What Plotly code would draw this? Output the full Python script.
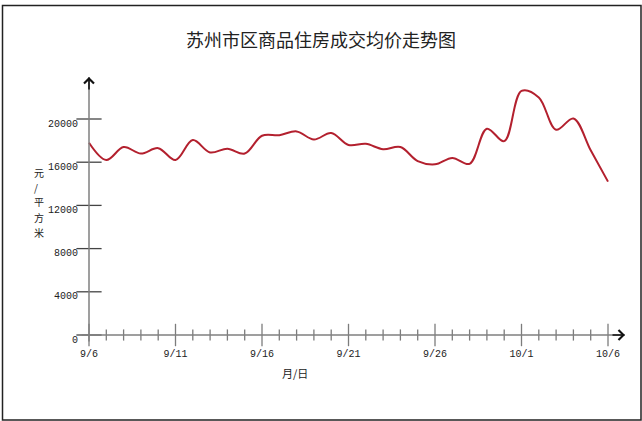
import plotly.graph_objects as go

# ---- data ----
dates = ['9/6', '9/7', '9/8', '9/9', '9/10', '9/11', '9/12', '9/13', '9/14', '9/15',
         '9/16', '9/17', '9/18', '9/19', '9/20', '9/21', '9/22', '9/23', '9/24', '9/25',
         '9/26', '9/27', '9/28', '9/29', '9/30', '10/1', '10/2', '10/3', '10/4', '10/5', '10/6']
prices = [17800, 16200, 17400, 16800, 17300, 16200, 18050, 16900, 17250, 16800,
          18450, 18500, 18850, 18100, 18700, 17600, 17700, 17200, 17400, 16100,
          15800, 16400, 15850, 19100, 17950, 22600, 22000, 19000, 20050, 17100, 14200]
x_tick_labels = ['9/6', '9/11', '9/16', '9/21', '9/26', '10/1', '10/6']
y_tick_vals = [0, 4000, 8000, 12000, 16000, 20000]
y_tick_text = ['0', '4000', '8000', '12000', '16000', '20000']

title = '苏州市区商品住房成交均价走势图'
y_label = '元/平方米'
x_label = '月/日'

# ---- layout geometry (pixels) ----
W, H = 642, 421
L, R, T, B = 81, 632, 70, 343        # plot area
X0PX, X30PX, Y0PX = 89, 608, 335      # where day 0, day 30 and value 0 land
px_per_day = (X30PX - X0PX) / 30.0
px_per_unit = 10.8 / 1000.0

x_range = [(L - X0PX) / px_per_day, 30 + (R - X30PX) / px_per_day]
y_range = [-(B - Y0PX) / px_per_unit, (Y0PX - T) / px_per_unit]


def pxx(px):
    return (px - L) / (R - L)


def pxy(py):
    return (B - py) / (B - T)


line_col = '#b3202e'
axis_col = '#808080'
tick_col = '#444444'
mono = 'Liberation Mono, DejaVu Sans Mono, monospace'
cjk = 'Noto Sans CJK SC, sans-serif'

fig = go.Figure()

# price line
fig.add_trace(go.Scatter(
    x=dates, y=prices, mode='lines',
    line=dict(color=line_col, width=2, shape='spline', smoothing=1.0),
    hoverinfo='skip', showlegend=False))

# x tick marks crossing the axis
fig.add_trace(go.Scatter(
    x=dates, y=[0] * len(dates), mode='markers',
    marker=dict(symbol='line-ns-open', color=tick_col,
                size=[16 if d in x_tick_labels else 8 for d in dates],
                line=dict(color=tick_col, width=1.3)),
    hoverinfo='skip', showlegend=False, cliponaxis=False))

# y tick marks crossing the axis
fig.add_trace(go.Scatter(
    x=[dates[0]] * len(y_tick_vals), y=y_tick_vals, mode='markers',
    marker=dict(symbol='line-ew-open', size=18, color=tick_col,
                line=dict(color=tick_col, width=1.3)),
    hoverinfo='skip', showlegend=False, cliponaxis=False))

x_end = x_range[1] - (R - 625) / px_per_day
y_top = (Y0PX - 77) / px_per_unit
annotations = [
    # y axis line
    dict(x=0, y=y_top, ax=0, ay=y_range[0], xref='x', yref='y', axref='x', ayref='y',
         text='', showarrow=True, arrowhead=0, arrowwidth=1.5, arrowcolor=axis_col),
    # x axis line
    dict(x=x_end, y=0, ax=x_range[0] - 0.05, ay=0, xref='x', yref='y', axref='x', ayref='y',
         text='', showarrow=True, arrowhead=0, arrowwidth=1.5, arrowcolor=axis_col),
    # arrow heads
    dict(x=0, y=y_top, ax=0, ay=y_top - 14 / px_per_unit, xref='x', yref='y', axref='x', ayref='y',
         text='', showarrow=True, arrowhead=4, arrowsize=1.2, arrowwidth=1.6, arrowcolor='#111111'),
    dict(x=x_end, y=0, ax=x_end - 14 / px_per_day, ay=0, xref='x', yref='y', axref='x', ayref='y',
         text='', showarrow=True, arrowhead=4, arrowsize=1.2, arrowwidth=1.6, arrowcolor='#111111'),
    # x axis title
    dict(x=pxx(295), y=pxy(383), xref='paper', yref='paper',
         text=x_label, showarrow=False,
         font=dict(family=cjk, size=11, color='#222222')),
]
# y axis title, stacked vertically one character per line
for ch, cy in zip(y_label, [172, 187, 202, 217, 232]):
    annotations.append(dict(x=pxx(33), y=pxy(cy), xref='paper', yref='paper',
                            text=ch, showarrow=False, borderpad=0,
                            font=dict(family=cjk, size=10, color='#222222')))

shapes = [
    dict(type='rect', xref='paper', yref='paper',
         x0=pxx(2.5), x1=pxx(641), y0=pxy(420), y1=pxy(5.5),
         line=dict(color='#222222', width=1.5), fillcolor='rgba(0,0,0,0)', layer='below'),
]

fig.update_layout(
    width=W, height=H,
    margin=dict(l=L, r=W - R, t=T, b=H - B, pad=0),
    paper_bgcolor='white', plot_bgcolor='white',
    title=dict(text=title, x=0.5, xref='container', xanchor='center',
               y=1 - 41 / H, yref='container', yanchor='middle',
               font=dict(family=cjk, size=18, color='#222222')),
    xaxis=dict(type='category', categoryorder='array', categoryarray=dates,
               range=x_range, showgrid=False, zeroline=False, showline=False,
               tickmode='array', tickvals=x_tick_labels, ticktext=x_tick_labels,
               ticks='', ticklabelstandoff=3,
               tickfont=dict(family=mono, size=10, color='#222222')),
    yaxis=dict(range=y_range, showgrid=False, zeroline=False, showline=False,
               tickmode='array', tickvals=y_tick_vals, ticktext=y_tick_text,
               ticks='', ticklabelstandoff=2, ticklabelshift=4,
               tickfont=dict(family=mono, size=10, color='#222222')),
    annotations=annotations, shapes=shapes,
    showlegend=False,
)

fig.write_html('out.html', config={'displayModeBar': False},
               post_script="document.body.style.margin='0';")
